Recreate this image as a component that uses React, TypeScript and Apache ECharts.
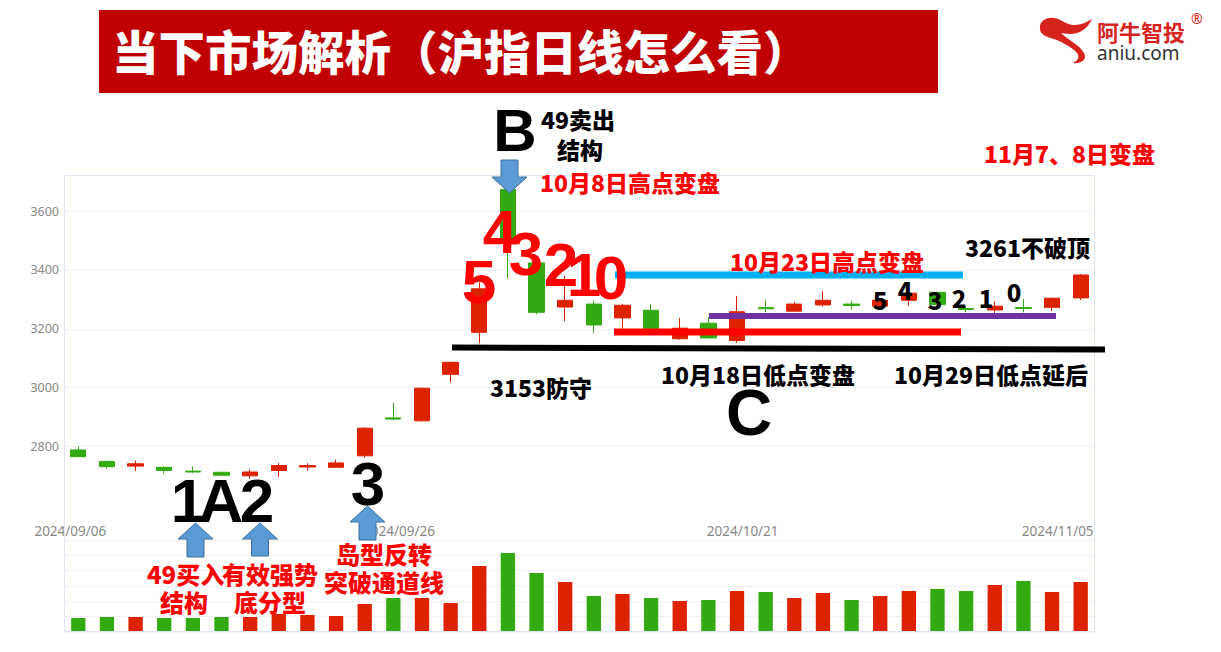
import React, { useEffect, useRef } from "react";
import * as echarts from "echarts";

const dates = [
  "2024/09/06","2024/09/09","2024/09/10","2024/09/11","2024/09/12","2024/09/13","2024/09/18","2024/09/19","2024/09/20","2024/09/23","2024/09/24","2024/09/25","2024/09/26","2024/09/27","2024/09/30",
  "2024/10/08","2024/10/09","2024/10/10","2024/10/11","2024/10/14","2024/10/15","2024/10/16","2024/10/17","2024/10/18","2024/10/21","2024/10/22","2024/10/23","2024/10/24","2024/10/25","2024/10/28","2024/10/29","2024/10/30","2024/10/31",
  "2024/11/01","2024/11/04","2024/11/05",
];
const opens = [2788,2749,2733,2729,2716,2712,2700,2718,2730,2729,2768,2897,2887,3045,3188,3674,3424,3274,3284,3237,3263,3166,3219,3160,3272,3260,3281,3284,3277,3297,3324,3269,3264,3272,3273,3305];
const closes = [2765,2731,2741,2718,2713,2702,2713,2735,2735,2744,2862,2893,2998,3086,3336,3490,3256,3297,3213,3280,3200,3202,3169,3258,3268,3284,3297,3279,3297,3321,3283,3266,3277,3269,3304,3383];
const lows = [2763,2725,2716,2708,2710,2699,2690,2696,2718,2727,2762,2889,2885,3017,3151,3370,3249,3226,3186,3200,3197,3163,3167,3152,3256,3258,3275,3267,3272,3277,3279,3256,3253,3256,3260,3298];
const highs = [2800,2752,2752,2731,2732,2714,2722,2743,2743,2755,2865,2948,3000,3088,3358,3674,3432,3380,3294,3285,3284,3236,3240,3312,3297,3292,3328,3294,3300,3330,3326,3277,3294,3301,3306,3386];
const volumes = [2740,2940,2940,2740,2740,2940,2940,3520,3330,3130,5480,6650,6650,5670,12900,15460,11550,9780,7050,7440,6650,6070,6260,8020,7830,6650,7630,6260,7050,8020,8420,8020,9200,9980,7830,9780];
const labelIndexes = [0, 12, 24, 35];

const UP = "#dd2200";
const DOWN = "#33aa11";
const CJK = '"Noto Sans CJK SC", "Noto Sans", sans-serif';
const LAT = '"Liberation Sans", Arial, sans-serif';

const logoD =
  "M1040,29 C1039,21 1046,17 1054,18 C1062,19 1066,25 1074,25 C1081,25 1087,22 1092,19 C1088,28 1080,34 1070,34 C1066,34 1063,33 1061,33 C1068,40 1080,45 1084,53 C1087,59 1083,64 1072,63 C1078,61 1080,57 1077,53 C1072,47 1062,42 1054,39 C1046,37 1040,34 1040,29 Z";
echarts.graphic.registerShape("logo", echarts.graphic.extendPath(logoD, {}));

function txt(text: string, x: number, y: number, size: number, fill: string, opts: any = {}) {
  const align = opts.align || "left";
  return {
    type: "text",
    x,
    y,
    z: 20,
    style: {
      text,
      fill,
      fontSize: size,
      fontWeight: opts.weight || 900,
      fontFamily: opts.family || CJK,
      align,
      textAlign: align,
      verticalAlign: "middle",
      textVerticalAlign: "middle",
    },
  };
}

function upArrow(cx: number, tip: number, bottom: number) {
  const hw = 17.5, sw = 8.5, hh = 16;
  return {
    type: "polygon",
    z: 15,
    shape: {
      points: [
        [cx, tip], [cx + hw, tip + hh], [cx + sw, tip + hh], [cx + sw, bottom],
        [cx - sw, bottom], [cx - sw, tip + hh], [cx - hw, tip + hh],
      ],
    },
    style: { fill: "#5b9bd5", stroke: "#41719c", lineWidth: 1 },
  };
}

function downArrow(cx: number, top: number, tip: number) {
  const hw = 17.5, sw = 8.5, hh = 16;
  return {
    type: "polygon",
    z: 15,
    shape: {
      points: [
        [cx - sw, top], [cx + sw, top], [cx + sw, tip - hh], [cx + hw, tip - hh],
        [cx, tip], [cx - hw, tip - hh], [cx - sw, tip - hh],
      ],
    },
    style: { fill: "#5b9bd5", stroke: "#41719c", lineWidth: 1 },
  };
}

function hline(x1: number, y1: number, x2: number, y2: number, color: string, w: number) {
  return {
    type: "line",
    z: 12,
    shape: { x1, y1, x2, y2 },
    style: { stroke: color, lineWidth: w },
  };
}

export default function App() {
  const ref = useRef<HTMLDivElement>(null);
  useEffect(() => {
    if (!ref.current) return;
    const chart = echarts.init(ref.current, undefined, { renderer: "svg" });
    const candleData = dates.map((_, i) => [opens[i], closes[i], lows[i], highs[i]]);
    const volData = volumes.map((v, i) => ({
      value: v,
      itemStyle: { color: closes[i] >= opens[i] ? UP : DOWN },
    }));
    const red = "#ff0000";
    const black = "#000000";
    const dateStyle = { color: "#888", fontSize: 13.5, fontFamily: '"Noto Sans", sans-serif' };
    const option: any = {
      animation: false,
      backgroundColor: "#ffffff",
      grid: [
        { left: 64, right: 126, top: 175, bottom: 170.3 },
        { left: 64, right: 126, top: 540, bottom: 20 },
      ],
      xAxis: [
        {
          type: "category",
          data: dates,
          gridIndex: 0,
          boundaryGap: true,
          axisLine: { show: false },
          axisTick: { show: false },
          axisLabel: { show: false },
          splitLine: { show: false },
        },
        {
          type: "category",
          data: dates,
          gridIndex: 1,
          position: "top",
          boundaryGap: true,
          axisLine: { show: false },
          axisTick: { show: false },
          splitLine: { show: false },
          axisLabel: {
            show: true,
            margin: 2,
            interval: (idx: number) => labelIndexes.indexOf(idx) >= 0,
            formatter: (v: string, idx: number) => (idx === 0 ? `{a|${v}}` : `{b|${v}}`),
            rich: {
              a: { ...dateStyle, padding: [0, 16, 0, 0] },
              b: { ...dateStyle, padding: [0, 46, 0, 0] },
            },
          },
        },
      ],
      yAxis: [
        {
          type: "value",
          gridIndex: 0,
          min: 2680,
          max: 3723,
          axisLine: { show: false },
          axisTick: { show: false },
          axisLabel: {
            color: "#888",
            fontSize: 12.5,
            margin: 5,
            showMinLabel: false,
            showMaxLabel: false,
            fontFamily: '"Noto Sans", sans-serif',
            formatter: (v: number) => String(Math.round(v)),
          },
          splitLine: {
            show: true,
            lineStyle: {
              color: ["rgba(0,0,0,0)", "#f1f2f6", "#f1f2f6", "#f1f2f6", "#f1f2f6", "#f1f2f6", "#f1f2f6"],
            },
          },
        },
        {
          type: "value",
          gridIndex: 1,
          min: 0,
          max: 18000,
          interval: 3000,
          axisLine: { show: false },
          axisTick: { show: false },
          axisLabel: { show: false },
          splitLine: { show: true, lineStyle: { color: "#eef0f6" } },
        },
      ],
      series: [
        {
          type: "candlestick",
          xAxisIndex: 0,
          yAxisIndex: 0,
          data: candleData,
          barWidth: "55%",
          itemStyle: {
            color: UP,
            color0: DOWN,
            borderColor: UP,
            borderColor0: DOWN,
            borderWidth: 1,
          },
        },
        {
          type: "bar",
          xAxisIndex: 1,
          yAxisIndex: 1,
          data: volData,
          barWidth: "50%",
        },
      ],
      graphic: [
        {
          type: "rect",
          z: 5,
          shape: { x: 64.5, y: 175.5, width: 1030, height: 456 },
          style: { fill: "none", stroke: "#dfe4f2", lineWidth: 1 },
        },
        { type: "rect", z: 5, shape: { x: 99, y: 10, width: 839, height: 83 }, style: { fill: "#c00000" } },
        txt("当下市场解析（沪指日线怎么看）", 112, 49, 46.5, "#ffffff"),
        { type: "logo", z: 5, x: 0, y: 0, style: { fill: "#d7231e" } },
        txt("阿牛智投", 1097, 31, 22, "#d7231e", { weight: "bold" }),
        txt("®", 1191, 18, 14, "#d7231e", { weight: "normal", family: '"Noto Sans", sans-serif' }),
        txt("aniu.com", 1097, 53, 19, "#333333", { weight: "normal", family: '"Noto Sans", sans-serif' }),
        hline(615, 275, 963, 275, "#00b0f0", 7),
        hline(709, 316, 1056, 316, "#7030a0", 6),
        hline(614, 332, 961, 332, "#ff0000", 7),
        hline(452, 347.5, 1105, 349.5, "#000000", 6),
        txt("B", 515, 130, 60, black, { align: "center", family: LAT, weight: "bold" }),
        txt("49卖出", 541, 119, 23, black),
        txt("结构", 580, 148.5, 23, black, { align: "center" }),
        downArrow(509.5, 160, 193),
        txt("10月8日高点变盘", 540, 182, 23, red),
        txt("5", 479, 281, 62, red, { align: "center", family: LAT, weight: "bold" }),
        txt("4", 500, 231, 62, red, { align: "center", family: LAT, weight: "bold" }),
        txt("3", 526, 253, 62, red, { align: "center", family: LAT, weight: "bold" }),
        txt("2", 561, 264, 62, red, { align: "center", family: LAT, weight: "bold" }),
        txt("1", 584, 274, 62, red, { align: "center", family: LAT, weight: "bold" }),
        txt("0", 611, 277, 62, red, { align: "center", family: LAT, weight: "bold" }),
        txt("10月23日高点变盘", 730, 261, 23, red),
        txt("3261不破顶", 965, 247, 23, black),
        txt("11月7、8日变盘", 984, 153, 23, red),
        txt("5", 880, 299, 24, black, { align: "center" }),
        txt("4", 905, 289, 24, black, { align: "center" }),
        txt("3", 935, 299, 24, black, { align: "center" }),
        txt("2", 959, 297, 24, black, { align: "center" }),
        txt("1", 986, 297, 24, black, { align: "center" }),
        txt("0", 1014, 291, 24, black, { align: "center" }),
        txt("3153防守", 490, 387, 23, black),
        txt("10月18日低点变盘", 661, 374, 23, black),
        txt("10月29日低点延后", 894, 374, 23, black),
        txt("C", 749, 413, 64, black, { align: "center", family: LAT, weight: "bold" }),
        txt("1", 188, 500, 62, black, { align: "center", family: LAT, weight: "bold" }),
        txt("A", 221, 500, 62, black, { align: "center", family: LAT, weight: "bold" }),
        txt("2", 257, 500, 62, black, { align: "center", family: LAT, weight: "bold" }),
        txt("3", 368, 483, 62, black, { align: "center", family: LAT, weight: "bold" }),
        upArrow(195.5, 523, 557),
        upArrow(260, 523, 556),
        upArrow(367.5, 506, 540),
        txt("49买入", 147, 573, 24, red),
        txt("结构", 184, 601, 24, red, { align: "center" }),
        txt("有效强势", 222, 573, 24, red),
        txt("底分型", 270, 601, 24, red, { align: "center" }),
        txt("岛型反转", 384, 553, 24, red, { align: "center" }),
        txt("突破通道线", 384, 581, 24, red, { align: "center" }),
      ],
    };
    chart.setOption(option);
    return () => chart.dispose();
  }, []);
  return <div ref={ref} style={{ width: 1221, height: 652, position: "absolute", left: 0, top: 0 }} />;
}
